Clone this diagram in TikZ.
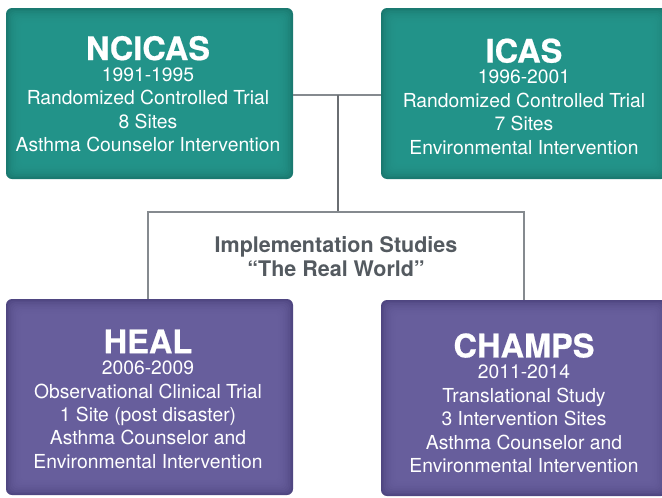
\documentclass[tikz,border=0pt]{standalone}
\usepackage{fontspec}
\setmainfont{TeX Gyre Heros}
\definecolor{tealedge}{HTML}{1A7970}
\definecolor{tealmid}{HTML}{26998E}
\definecolor{purpedge}{HTML}{4F4681}
\definecolor{purpmid}{HTML}{6C63A2}
\definecolor{linegray}{HTML}{858A8F}
\definecolor{textgray}{HTML}{545A60}
\tikzset{
  glow/.style={path picture={
    \foreach \i in {1,...,9}{
      \fill[#1, opacity=0.22, rounded corners=6pt]
        ([shift={(\i*1.6pt,-\i*1.6pt)}]path picture bounding box.north west)
        rectangle ([shift={(-\i*1.6pt,\i*1.6pt)}]path picture bounding box.south east);
    }}},
  tealbox/.style={rectangle, rounded corners=6pt, fill=tealedge, glow=tealmid, draw=none},
  purpbox/.style={rectangle, rounded corners=6pt, fill=purpedge, glow=purpmid, draw=none},
  boxtext/.style={align=center, text=white, font=\fontsize{19.3}{23.4}\selectfont, inner sep=0pt},
  conn/.style={draw=linegray, line width=1.4pt},
}
\newcommand{\ttl}[1]{{\fontsize{32.5}{32}\selectfont\bfseries\addfontfeature{FakeBold=0.6}#1}\\[-2pt]}
\begin{document}
\begin{tikzpicture}[x=1pt, y=-1pt]
\useasboundingbox (0,0) rectangle (662,498);
\fill[white] (0,0) rectangle (662,498);
\clip (0,0) rectangle (662,498);
% boxes
\node[tealbox, minimum width=287pt, minimum height=171pt] (ncicas) at (149.5,93.5) {};
\node[tealbox, minimum width=286pt, minimum height=171pt] (icas) at (524,93.5) {};
\node[purpbox, minimum width=287pt, minimum height=196pt] (heal) at (149.5,397) {};
\node[purpbox, minimum width=286pt, minimum height=196pt] (champs) at (524,398) {};
% connectors
\coordinate (mid) at (338,95);
\coordinate (jn) at (338,212);
\coordinate (lj) at (148,212);
\coordinate (rj) at (524,212);
\draw[conn] (ncicas.east |- mid) -- (icas.west |- mid);
\draw[conn, line width=1.1pt, draw=linegray!80!black] (mid) -- (jn);
\draw[conn] (heal.north -| lj) -- (lj) -- (rj) -- (champs.north -| rj);
% texts
\node[boxtext] (ncicasT) at (148,94) {\ttl{NCICAS}1991-1995\\Randomized Controlled Trial\\8 Sites\\Asthma Counselor Intervention};
\node[boxtext] (icasT) at (524,96.5) {\ttl{ICAS}1996-2001\\Randomized Controlled Trial\\7 Sites\\Environmental Intervention};
\node[boxtext] (healT) at (148,399) {\ttl{HEAL}2006-2009\\Observational Clinical Trial\\1 Site (post disaster)\\Asthma Counselor and\\Environmental Intervention};
\node[boxtext] (champsT) at (524,403) {\ttl{CHAMPS}2011-2014\\Translational Study\\3 Intervention Sites\\Asthma Counselor and\\Environmental Intervention};
\node[align=center, text=textgray, font=\fontsize{21.5}{24}\selectfont\bfseries, inner sep=0pt] (impl) at (336,257) {Implementation Studies\\``The Real World''};
\end{tikzpicture}
\end{document}
